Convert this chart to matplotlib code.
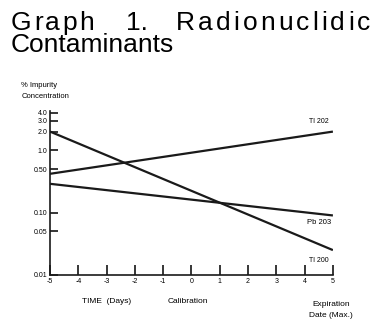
import numpy as np
import matplotlib.pyplot as plt
from matplotlib.font_manager import findfont, FontProperties
from matplotlib.ft2font import FT2Font

plt.rcParams['font.family'] = ['Liberation Sans', 'DejaVu Sans']

# data (days relative to calibration, % impurity)
days = [-5, 5]
tl202 = [0.42, 2.0]
pb203 = [0.29, 0.09]
tl200 = [2.0, 0.025]

series_names = ['Tl 202', 'Pb 203', 'Tl 200']
y_ticks = [0.01, 0.05, 0.10, 0.50, 1.0, 2.0, 3.0, 4.0]
y_tick_labels = ['0.01', '0.05', '0.10', '0.50', '1.0', '2.0', '3.0', '4.0']
x_ticks = list(range(-5, 6))

W, H = 388, 334
fig = plt.figure(figsize=(W / 100, H / 100), dpi=100)
ax = fig.add_axes([0.129, 0.177, 0.729, 0.491])

for vals in (tl202, pb203, tl200):
    ax.plot(days, vals, color='#1a1a1a', lw=1.6, solid_capstyle='butt')

ax.set_yscale('log')
ax.set_xlim(-5, 5)
ax.set_ylim(0.01, 4.3)
ax.set_yticks(y_ticks)
ax.set_yticklabels(y_tick_labels)
ax.minorticks_off()
ax.set_xticks(x_ticks)
ax.set_xticklabels([str(t) for t in x_ticks])

ax.tick_params(axis='y', direction='in', length=6, width=1.1, labelsize=5, pad=2)
ax.tick_params(axis='x', direction='in', length=7, width=1.1, labelsize=5, pad=2)
for side in ('top', 'right'):
    ax.spines[side].set_visible(False)
for side in ('left', 'bottom'):
    ax.spines[side].set_linewidth(1.2)
    ax.spines[side].set_color('#1a1a1a')

# series labels at the right end
ax.text(4.5, 2.9, series_names[0], fontsize=5, ha='center', va='center')
ax.text(4.5, 0.07, series_names[1], fontsize=5.5, ha='center', va='center')
ax.text(4.5, 0.017, series_names[2], fontsize=5, ha='center', va='center')

# title: first line is letter-spaced in the scan, so place glyphs by advance
TITLE_SIZE = 19
ft = FT2Font(findfont(FontProperties(family='Liberation Sans')))
ft.set_size(TITLE_SIZE, 100)


def spaced(x0, x1, y_px, s):
    adv = [ft.load_char(ord(ch)).linearHoriAdvance / 65536 for ch in s]
    gap = (x1 - x0 - sum(adv)) / max(len(s) - 1, 1)
    x = x0
    for ch, a in zip(s, adv):
        fig.text(x / W, 1 - y_px / H, ch, fontsize=TITLE_SIZE, va='baseline')
        x += a + gap


spaced(11, 94, 30, 'Graph')
fig.text(126 / W, 1 - 30 / H, '1.', fontsize=TITLE_SIZE, va='baseline')
spaced(176, 370, 30, 'Radionuclidic')
fig.text(11 / W, 1 - 52 / H, 'Contaminants', fontsize=TITLE_SIZE, va='baseline')

fig.text(0.055, 0.728, '% Impurity\nConcentration', fontsize=5.5, ha='left',
         va='center', linespacing=1.7)

fig.text(0.275, 0.097, 'TIME  (Days)', fontsize=6, ha='center', va='center')
fig.text(0.485, 0.097, 'Calibration', fontsize=6, ha='center', va='center')
fig.text(0.853, 0.073, 'Expiration\nDate (Max.)', fontsize=6, ha='center',
         va='center', linespacing=1.8)

fig.savefig('out.png', dpi=100, facecolor='white')
